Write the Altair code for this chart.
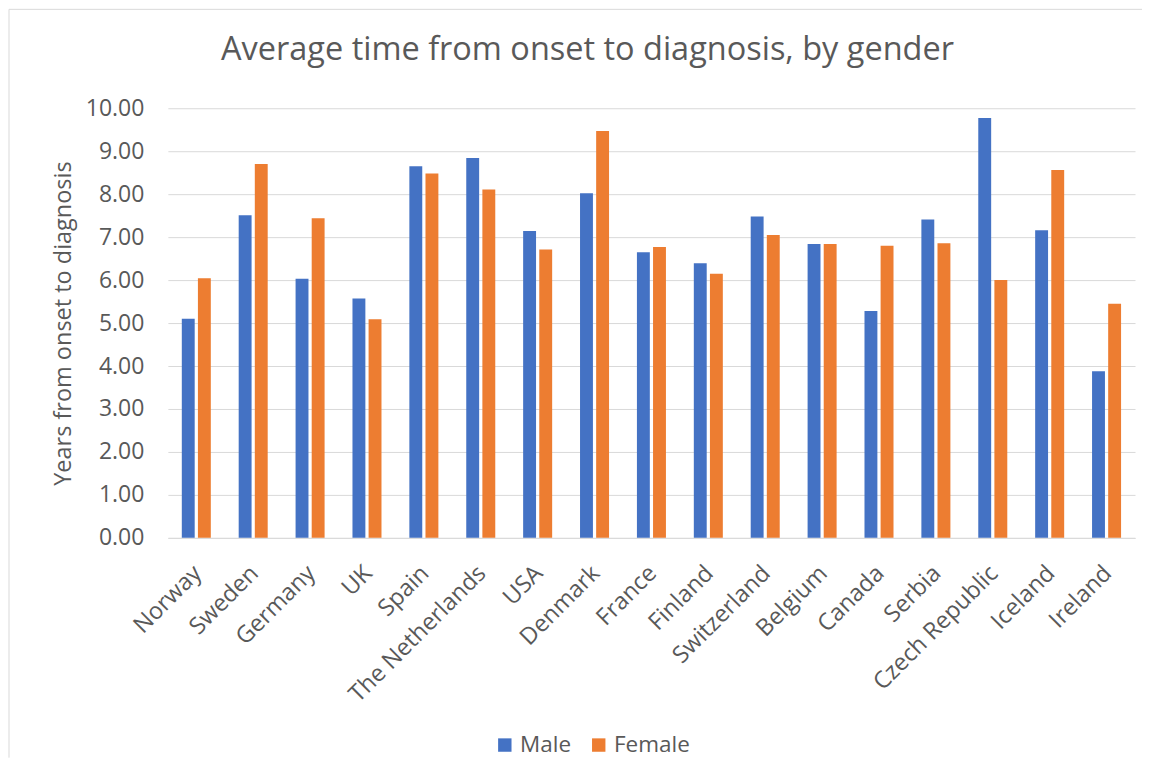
import altair as alt
import pandas as pd

countries = ["Norway", "Sweden", "Germany", "UK", "Spain", "The Netherlands", "USA",
             "Denmark", "France", "Finland", "Switzerland", "Belgium", "Canada",
             "Serbia", "Czech Republic", "Iceland", "Ireland"]
male = [5.10, 7.51, 6.03, 5.57, 8.65, 8.84, 7.14, 8.02, 6.65, 6.39, 7.48, 6.84,
        5.28, 7.41, 9.77, 7.16, 3.88]
female = [6.04, 8.70, 7.44, 5.09, 8.48, 8.11, 6.71, 9.47, 6.77, 6.15, 7.05, 6.84,
          6.80, 6.86, 6.00, 8.56, 5.45]
genders = ["Male", "Female"]
colors = ["#4472C4", "#ED7D31"]
y_ticks = [0, 1, 2, 3, 4, 5, 6, 7, 8, 9, 10]

rows = []
for c, m, f in zip(countries, male, female):
    rows.append({"Country": c, "Gender": "Male", "Years": m})
    rows.append({"Country": c, "Gender": "Female", "Years": f})
df = pd.DataFrame(rows)

FONT = "Open Sans"
GREY = "#595959"

bars = alt.Chart(df).mark_bar().encode(
    x=alt.X("Country:N", sort=countries,
            scale=alt.Scale(paddingInner=0.49, paddingOuter=0.245),
            axis=alt.Axis(title=None, labelAngle=-45, labelFontSize=23.5, labelColor=GREY,
                          labelFont=FONT, ticks=False, domainColor="#d9d9d9",
                          labelPadding=23, labelOffset=-7, labelLimit=300)),
    xOffset=alt.XOffset("Gender:N", sort=genders, scale=alt.Scale(paddingInner=0.2)),
    y=alt.Y("Years:Q", scale=alt.Scale(domain=[0, 10], nice=False),
            axis=alt.Axis(title="Years from onset to diagnosis", values=y_ticks,
                          format=".2f", labelFontSize=23, labelColor=GREY, labelFont=FONT,
                          ticks=False, domain=False, gridColor="#d9d9d9",
                          labelPadding=24, titleFontSize=23.5, titleColor=GREY,
                          titleFont=FONT, titleFontWeight="normal", titlePadding=10)),
    color=alt.Color("Gender:N", sort=genders,
                    scale=alt.Scale(domain=genders, range=colors),
                    legend=alt.Legend(title=None, orient="none", direction="horizontal",
                                      legendX=326, legendY=626, symbolType="square",
                                      symbolSize=180, labelFontSize=22.5, labelColor=GREY,
                                      labelFont=FONT, columnPadding=16,
                                      symbolStrokeWidth=0)),
)

border_data = alt.Data(values=[{}])
left_line = alt.Chart(border_data).mark_rule(color="#d9d9d9", strokeWidth=1).encode(
    x=alt.value(-159), y=alt.value(-99), y2=alt.value(650))
top_line = alt.Chart(border_data).mark_rule(color="#d9d9d9", strokeWidth=1).encode(
    x=alt.value(-159), x2=alt.value(975), y=alt.value(-99))

chart = alt.layer(bars, left_line, top_line).properties(
    width=968, height=430,
    padding=0,
    title=alt.TitleParams("Average time from onset to diagnosis, by gender",
                          fontSize=32.5, color=GREY, font=FONT, fontWeight="normal",
                          anchor="middle", frame="bounds", offset=-58, dx=12),
).configure_view(stroke=None)

chart.save("out.html", embed_options={"renderer": "svg", "actions": False})
